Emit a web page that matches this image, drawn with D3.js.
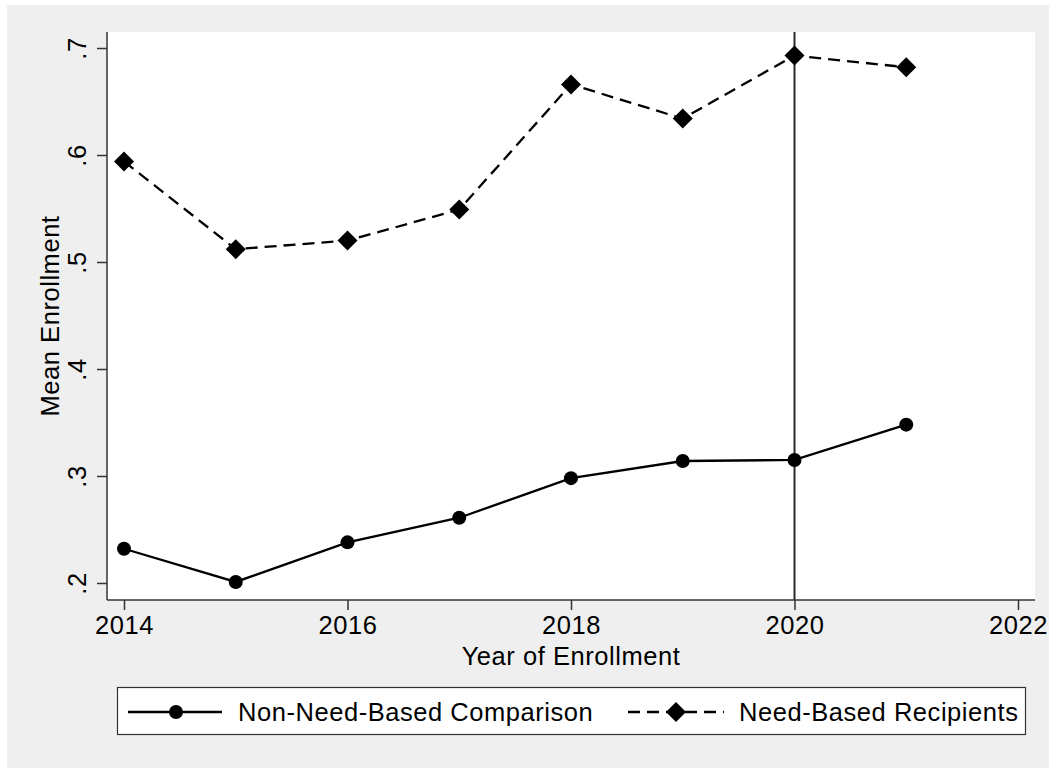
<!DOCTYPE html>
<html><head><meta charset="utf-8">
<script src="https://cdn.jsdelivr.net/npm/d3@7"></script>
<style>body{margin:0;background:#fff}svg{display:block}text{font-family:Arial,"Liberation Sans",sans-serif;fill:#000;letter-spacing:0.55px}</style>
</head><body><svg id="c" width="1049" height="768"></svg>
<script>
const years = [2014, 2015, 2016, 2017, 2018, 2019, 2020, 2021];
const nonNeedBased = [0.232, 0.201, 0.238, 0.261, 0.298, 0.314, 0.315, 0.348];
const needBased = [0.594, 0.512, 0.520, 0.549, 0.666, 0.634, 0.693, 0.682];
const xTicks = [2014, 2016, 2018, 2020, 2022];
const yTicks = [0.2, 0.3, 0.4, 0.5, 0.6, 0.7];
const yTickLabels = [".2", ".3", ".4", ".5", ".6", ".7"];
const seriesNames = ["Non-Need-Based Comparison", "Need-Based Recipients"];
const refLineYear = 2020;

const svg = d3.select("#c");
const W = 1049, H = 768;
const FS = 25.5;
svg.append("rect").attr("x", 7).attr("y", 5).attr("width", W - 7).attr("height", H - 5).attr("fill", "#efefef");

const plot = {left: 107, right: 1035, top: 32, bottom: 600};
svg.append("rect").attr("x", plot.left).attr("y", plot.top).attr("width", plot.right - plot.left).attr("height", plot.bottom - plot.top).attr("fill", "#fff");

const x = d3.scaleLinear().domain([2014, 2022]).range([124, 1018]);
const y = d3.scaleLinear().domain([0.2, 0.7]).range([583, 48]);

// reference line
svg.append("line").attr("x1", x(refLineYear)).attr("x2", x(refLineYear))
  .attr("y1", plot.top).attr("y2", plot.bottom).attr("stroke", "#2a2a2a").attr("stroke-width", 2);

// axes
const xAxis = svg.append("g").attr("transform", `translate(0,${plot.bottom})`)
  .call(d3.axisBottom(x).tickValues(xTicks).tickFormat(d3.format("d")).tickSize(10).tickPadding(6));
xAxis.select(".domain").attr("d", `M${plot.left},0H${plot.right}`).attr("stroke", "#333").attr("stroke-width", 1.5);
xAxis.selectAll(".tick line").attr("stroke", "#333").attr("stroke-width", 1.5);
xAxis.selectAll(".tick text").attr("font-size", FS).attr("font-family", "Arial, 'Liberation Sans', sans-serif").attr("fill", "#000").attr("dy", "0.71em");

const yAxis = svg.append("g").attr("transform", `translate(${plot.left},0)`)
  .call(d3.axisLeft(y).tickValues(yTicks).tickFormat((d, i) => yTickLabels[i]).tickSize(10));
yAxis.select(".domain").attr("d", `M0,${plot.top}V${plot.bottom}`).attr("stroke", "#333").attr("stroke-width", 1.5);
yAxis.selectAll(".tick line").attr("stroke", "#333").attr("stroke-width", 1.5);
yAxis.selectAll(".tick text").attr("font-size", FS).attr("font-family", "Arial, 'Liberation Sans', sans-serif").attr("fill", "#000")
  .attr("x", null).attr("dy", null).attr("text-anchor", "middle")
  .attr("transform", "translate(-21,0) rotate(-90)");

// axis titles
svg.append("text").attr("x", (plot.left + plot.right) / 2).attr("y", 665).attr("text-anchor", "middle")
  .attr("font-size", FS).text("Year of Enrollment");
svg.append("text").attr("transform", `translate(59,${(plot.top + plot.bottom) / 2}) rotate(-90)`).attr("text-anchor", "middle")
  .attr("font-size", FS).text("Mean Enrollment");

// lines
const line = d3.line().x((d, i) => x(years[i])).y(d => y(d));
svg.append("path").datum(nonNeedBased).attr("d", line).attr("fill", "none").attr("stroke", "#000").attr("stroke-width", 2.3);
svg.append("path").datum(needBased).attr("d", line).attr("fill", "none").attr("stroke", "#000").attr("stroke-width", 2.3).attr("stroke-dasharray", "12,7");

const diamond = d3.symbol().type(d3.symbolSquare).size(200);
svg.selectAll("circle.nn").data(nonNeedBased).enter().append("circle")
  .attr("cx", (d, i) => x(years[i])).attr("cy", d => y(d)).attr("r", 7).attr("fill", "#000");
svg.selectAll("path.nb").data(needBased).enter().append("path").attr("class", "nb")
  .attr("d", diamond).attr("transform", (d, i) => `translate(${x(years[i])},${y(d)}) rotate(45)`).attr("fill", "#000");

// legend
const lg = svg.append("g");
lg.append("rect").attr("x", 117.5).attr("y", 687.5).attr("width", 908).attr("height", 47).attr("fill", "#fff").attr("stroke", "#333").attr("stroke-width", 1.2);
const ly = 712;
lg.append("line").attr("x1", 128).attr("x2", 222).attr("y1", ly).attr("y2", ly).attr("stroke", "#000").attr("stroke-width", 2.3);
lg.append("circle").attr("cx", 176).attr("cy", ly).attr("r", 7).attr("fill", "#000");
lg.append("text").attr("x", 238).attr("y", 721).attr("font-size", FS).text(seriesNames[0]);
lg.append("line").attr("x1", 628).attr("x2", 724).attr("y1", ly).attr("y2", ly).attr("stroke", "#000").attr("stroke-width", 2.3).attr("stroke-dasharray", "12,7");
lg.append("path").attr("d", diamond).attr("transform", `translate(676,${ly}) rotate(45)`).attr("fill", "#000");
lg.append("text").attr("x", 739).attr("y", 721).attr("font-size", FS).text(seriesNames[1]);
</script></body></html>
